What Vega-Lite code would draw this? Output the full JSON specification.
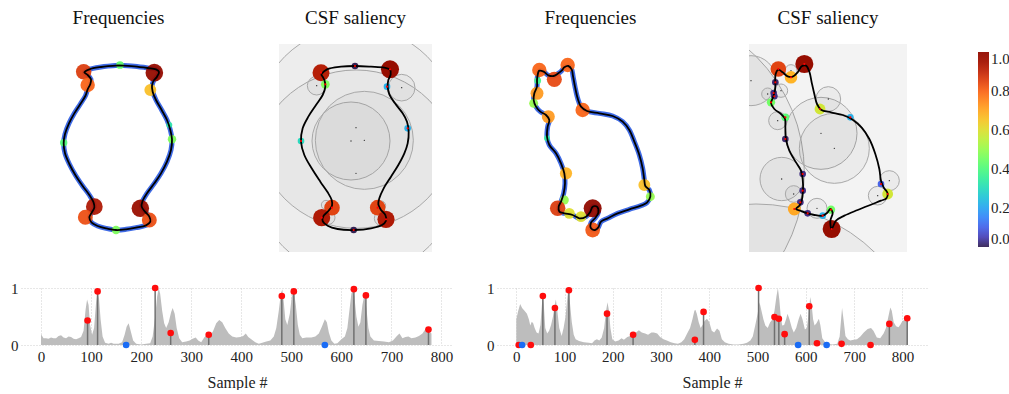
{
  "$schema": "https://vega.github.io/schema/vega-lite/v6.json",
  "padding": {"left": 10, "top": 9, "right": 0, "bottom": 0},
  "background": "white",
  "config": {
    "view": {"stroke": null},
    "font": "Liberation Serif",
    "axis": {"labelFont": "Liberation Serif", "titleFont": "Liberation Serif", "labelColor": "#222", "titleColor": "#222", "gridColor": "#cfcfcf", "gridDash": [1, 2], "domain": false, "ticks": false, "labelFontSize": 15, "titleFontSize": 16, "titleFontWeight": "normal"},
    "title": {"font": "Liberation Serif", "fontSize": 19, "fontWeight": "normal", "color": "#111", "offset": 16}
  },
  "datasets": {
    "p1_line": [
      {"i":0,"x":232,"y":76},{"i":1,"x":280,"y":79},{"i":2,"x":320,"y":84},{"i":3,"x":345,"y":88},{"i":4,"x":354,"y":96},{"i":5,"x":348,"y":110},{"i":6,"x":338,"y":122},{"i":7,"x":333,"y":137},{"i":8,"x":335,"y":155},{"i":9,"x":345,"y":180},{"i":10,"x":362,"y":210},{"i":11,"x":378,"y":240},{"i":12,"x":388,"y":270},{"i":13,"x":393,"y":298},{"i":14,"x":390,"y":330},{"i":15,"x":378,"y":365},{"i":16,"x":360,"y":400},{"i":17,"x":340,"y":430},{"i":18,"x":318,"y":460},{"i":19,"x":304,"y":485},{"i":20,"x":302,"y":500},{"i":21,"x":312,"y":515},{"i":22,"x":325,"y":530},{"i":23,"x":328,"y":545},{"i":24,"x":315,"y":556},{"i":25,"x":285,"y":563},{"i":26,"x":255,"y":568},{"i":27,"x":225,"y":570},{"i":28,"x":195,"y":565},{"i":29,"x":170,"y":558},{"i":30,"x":152,"y":548},{"i":31,"x":145,"y":532},{"i":32,"x":152,"y":518},{"i":33,"x":160,"y":503},{"i":34,"x":158,"y":488},{"i":35,"x":145,"y":465},{"i":36,"x":125,"y":438},{"i":37,"x":103,"y":405},{"i":38,"x":85,"y":372},{"i":39,"x":72,"y":340},{"i":40,"x":68,"y":310},{"i":41,"x":72,"y":282},{"i":42,"x":84,"y":250},{"i":43,"x":100,"y":220},{"i":44,"x":118,"y":192},{"i":45,"x":133,"y":168},{"i":46,"x":140,"y":148},{"i":47,"x":148,"y":132},{"i":48,"x":150,"y":118},{"i":49,"x":140,"y":105},{"i":50,"x":130,"y":97},{"i":51,"x":145,"y":88},{"i":52,"x":180,"y":81},{"i":53,"x":232,"y":76}
    ],
    "p1_pts": [
      {"x":128,"y":95,"v":0.86},{"x":140,"y":135,"v":0.8},{"x":340,"y":98,"v":0.98},{"x":328,"y":150,"v":0.66},{"x":237,"y":75,"v":0.43},{"x":68,"y":308,"v":0.41},{"x":393,"y":298,"v":0.47},{"x":385,"y":255,"v":0.33},{"x":160,"y":500,"v":0.93},{"x":133,"y":532,"v":0.83},{"x":298,"y":505,"v":0.97},{"x":325,"y":540,"v":0.83},{"x":225,"y":570,"v":0.47}
    ],
    "p2_line": [
      {"i":0,"x":150,"y":118},{"i":1,"x":168,"y":103},{"i":2,"x":210,"y":95},{"i":3,"x":252,"y":93},{"i":4,"x":300,"y":95},{"i":5,"x":340,"y":98},{"i":6,"x":357,"y":104},{"i":7,"x":359,"y":118},{"i":8,"x":352,"y":135},{"i":9,"x":350,"y":155},{"i":10,"x":355,"y":178},{"i":11,"x":372,"y":205},{"i":12,"x":395,"y":235},{"i":13,"x":408,"y":260},{"i":14,"x":413,"y":290},{"i":15,"x":410,"y":325},{"i":16,"x":400,"y":355},{"i":17,"x":382,"y":390},{"i":18,"x":360,"y":425},{"i":19,"x":338,"y":460},{"i":20,"x":325,"y":490},{"i":21,"x":322,"y":508},{"i":22,"x":330,"y":525},{"i":23,"x":343,"y":540},{"i":24,"x":345,"y":557},{"i":25,"x":333,"y":570},{"i":26,"x":300,"y":580},{"i":27,"x":250,"y":585},{"i":28,"x":200,"y":582},{"i":29,"x":170,"y":572},{"i":30,"x":155,"y":558},{"i":31,"x":158,"y":542},{"i":32,"x":172,"y":528},{"i":33,"x":183,"y":512},{"i":34,"x":182,"y":495},{"i":35,"x":170,"y":472},{"i":36,"x":148,"y":440},{"i":37,"x":122,"y":400},{"i":38,"x":100,"y":360},{"i":39,"x":90,"y":320},{"i":40,"x":95,"y":280},{"i":41,"x":112,"y":245},{"i":42,"x":135,"y":210},{"i":43,"x":155,"y":180},{"i":44,"x":163,"y":155},{"i":45,"x":160,"y":135},{"i":46,"x":150,"y":118}
    ],
    "p2_pts": [
      {"x":150,"y":113,"v":0.92},{"x":357,"y":103,"v":0.98},{"x":252,"y":93,"v":0.0},{"x":163,"y":148,"v":0.47},{"x":348,"y":155,"v":0.22},{"x":410,"y":280,"v":0.22},{"x":90,"y":318,"v":0.3},{"x":183,"y":518,"v":0.85},{"x":152,"y":548,"v":0.93},{"x":320,"y":518,"v":0.85},{"x":345,"y":553,"v":0.93},{"x":248,"y":585,"v":0.0}
    ],
    "p2_gray": [
      {"x":255,"y":415,"r":310},{"x":255,"y":278,"r":302},{"x":240,"y":318,"r":117},{"x":280,"y":316,"r":147},{"x":137,"y":152,"r":28},{"x":392,"y":158,"r":40},{"x":165,"y":510,"r":14},{"x":330,"y":512,"r":14},{"x":172,"y":548,"r":20},{"x":332,"y":550,"r":22}
    ],
    "p3_line": [
      {"i":0,"x":80,"y":105},{"i":1,"x":85,"y":92},{"i":2,"x":98,"y":95},{"i":3,"x":112,"y":106},{"i":4,"x":128,"y":108},{"i":5,"x":142,"y":100},{"i":6,"x":152,"y":92},{"i":7,"x":160,"y":82},{"i":8,"x":172,"y":78},{"i":9,"x":182,"y":88},{"i":10,"x":186,"y":108},{"i":11,"x":192,"y":140},{"i":12,"x":200,"y":175},{"i":13,"x":210,"y":200},{"i":14,"x":228,"y":213},{"i":15,"x":265,"y":220},{"i":16,"x":305,"y":228},{"i":17,"x":335,"y":245},{"i":18,"x":355,"y":270},{"i":19,"x":370,"y":305},{"i":20,"x":385,"y":345},{"i":21,"x":395,"y":385},{"i":22,"x":400,"y":420},{"i":23,"x":403,"y":438},{"i":24,"x":415,"y":450},{"i":25,"x":418,"y":470},{"i":26,"x":408,"y":488},{"i":27,"x":390,"y":497},{"i":28,"x":355,"y":508},{"i":29,"x":320,"y":520},{"i":30,"x":290,"y":535},{"i":31,"x":270,"y":545},{"i":32,"x":262,"y":562},{"i":33,"x":252,"y":570},{"i":34,"x":240,"y":565},{"i":35,"x":240,"y":548},{"i":36,"x":252,"y":535},{"i":37,"x":262,"y":518},{"i":38,"x":258,"y":500},{"i":39,"x":245,"y":500},{"i":40,"x":238,"y":515},{"i":41,"x":225,"y":530},{"i":42,"x":205,"y":535},{"i":43,"x":185,"y":525},{"i":44,"x":160,"y":520},{"i":45,"x":145,"y":515},{"i":46,"x":143,"y":500},{"i":47,"x":150,"y":485},{"i":48,"x":158,"y":460},{"i":49,"x":162,"y":430},{"i":50,"x":160,"y":400},{"i":51,"x":150,"y":370},{"i":52,"x":135,"y":340},{"i":53,"x":115,"y":315},{"i":54,"x":108,"y":290},{"i":55,"x":110,"y":260},{"i":56,"x":115,"y":240},{"i":57,"x":105,"y":225},{"i":58,"x":88,"y":215},{"i":59,"x":75,"y":200},{"i":60,"x":68,"y":180},{"i":61,"x":70,"y":160},{"i":62,"x":78,"y":140},{"i":63,"x":78,"y":120},{"i":64,"x":80,"y":105}
    ],
    "p3_pts": [
      {"x":85,"y":90,"v":0.8},{"x":130,"y":118,"v":0.84},{"x":170,"y":75,"v":0.8},{"x":78,"y":160,"v":0.72},{"x":68,"y":190,"v":0.5},{"x":112,"y":230,"v":0.72},{"x":215,"y":210,"v":0.8},{"x":165,"y":400,"v":0.68},{"x":160,"y":480,"v":0.5},{"x":140,"y":505,"v":0.86},{"x":175,"y":520,"v":0.6},{"x":210,"y":530,"v":0.6},{"x":245,"y":505,"v":1.0},{"x":245,"y":570,"v":0.82},{"x":400,"y":435,"v":0.66},{"x":418,"y":470,"v":0.5},{"x":108,"y":295,"v":0.33},{"x":80,"y":122,"v":0.38}
    ],
    "p4_line": [
      {"i":0,"x":103,"y":130},{"i":1,"x":104,"y":105},{"i":2,"x":112,"y":92},{"i":3,"x":125,"y":100},{"i":4,"x":140,"y":112},{"i":5,"x":155,"y":113},{"i":6,"x":170,"y":100},{"i":7,"x":182,"y":82},{"i":8,"x":195,"y":80},{"i":9,"x":205,"y":98},{"i":10,"x":212,"y":130},{"i":11,"x":220,"y":165},{"i":12,"x":228,"y":195},{"i":13,"x":240,"y":212},{"i":14,"x":270,"y":220},{"i":15,"x":305,"y":228},{"i":16,"x":335,"y":242},{"i":17,"x":362,"y":266},{"i":18,"x":385,"y":300},{"i":19,"x":403,"y":345},{"i":20,"x":415,"y":390},{"i":21,"x":420,"y":425},{"i":22,"x":428,"y":445},{"i":23,"x":440,"y":463},{"i":24,"x":436,"y":478},{"i":25,"x":420,"y":485},{"i":26,"x":395,"y":495},{"i":27,"x":350,"y":513},{"i":28,"x":310,"y":530},{"i":29,"x":285,"y":545},{"i":30,"x":272,"y":570},{"i":31,"x":268,"y":545},{"i":32,"x":275,"y":522},{"i":33,"x":268,"y":510},{"i":34,"x":258,"y":522},{"i":35,"x":245,"y":530},{"i":36,"x":220,"y":528},{"i":37,"x":200,"y":523},{"i":38,"x":180,"y":516},{"i":39,"x":165,"y":510},{"i":40,"x":175,"y":500},{"i":41,"x":182,"y":485},{"i":42,"x":186,"y":455},{"i":43,"x":185,"y":420},{"i":44,"x":180,"y":395},{"i":45,"x":165,"y":370},{"i":46,"x":145,"y":335},{"i":47,"x":135,"y":300},{"i":48,"x":133,"y":265},{"i":49,"x":132,"y":240},{"i":50,"x":120,"y":225},{"i":51,"x":100,"y":210},{"i":52,"x":90,"y":192},{"i":53,"x":95,"y":178},{"i":54,"x":100,"y":162},{"i":55,"x":103,"y":145},{"i":56,"x":103,"y":130}
    ],
    "p4_pts": [
      {"x":112,"y":90,"v":0.85},{"x":190,"y":75,"v":0.98},{"x":150,"y":115,"v":0.68},{"x":103,"y":130,"v":0.01},{"x":98,"y":162,"v":0.02},{"x":100,"y":172,"v":0.02},{"x":90,"y":190,"v":0.45},{"x":133,"y":235,"v":0.42},{"x":237,"y":210,"v":0.58},{"x":328,"y":235,"v":0.22},{"x":133,"y":300,"v":0.01},{"x":185,"y":405,"v":0.02},{"x":185,"y":455,"v":0.02},{"x":178,"y":490,"v":0.02},{"x":160,"y":510,"v":0.7},{"x":200,"y":523,"v":0.02},{"x":245,"y":530,"v":0.22},{"x":270,"y":512,"v":0.45},{"x":272,"y":570,"v":0.98},{"x":420,"y":435,"v":0.1},{"x":440,"y":465,"v":0.58}
    ],
    "p4_gray": [
      {"x":-300,"y":400,"r":490},{"x":45,"y":1005,"r":510},{"x":30,"y":125,"r":75},{"x":240,"y":283,"r":108},{"x":280,"y":328,"r":105},{"x":262,"y":180,"r":37},{"x":122,"y":420,"r":65},{"x":80,"y":165,"r":18},{"x":120,"y":155,"r":20},{"x":110,"y":245,"r":27},{"x":158,"y":465,"r":25},{"x":228,"y":508,"r":30},{"x":445,"y":425,"r":30},{"x":410,"y":470,"r":28},{"x":150,"y":95,"r":18}
    ],
    "c1_area": [
      {"s":0,"v":0.19},{"s":5,"v":0.12},{"s":10,"v":0.12},{"s":15,"v":0.11},{"s":20,"v":0.13},{"s":25,"v":0.12},{"s":30,"v":0.12},{"s":35,"v":0.16},{"s":40,"v":0.17},{"s":45,"v":0.13},{"s":50,"v":0.12},{"s":55,"v":0.15},{"s":60,"v":0.14},{"s":65,"v":0.11},{"s":70,"v":0.1},{"s":75,"v":0.12},{"s":80,"v":0.14},{"s":85,"v":0.25},{"s":89,"v":0.62},{"s":92,"v":0.8},{"s":95,"v":0.7},{"s":98,"v":0.35},{"s":102,"v":0.18},{"s":106,"v":0.3},{"s":110,"v":0.75},{"s":113,"v":0.95},{"s":116,"v":0.8},{"s":119,"v":0.45},{"s":123,"v":0.15},{"s":128,"v":0.04},{"s":135,"v":0.02},{"s":140,"v":0.04},{"s":145,"v":0.02},{"s":155,"v":0.02},{"s":162,"v":0.05},{"s":167,"v":0.18},{"s":171,"v":0.32},{"s":175,"v":0.38},{"s":179,"v":0.25},{"s":184,"v":0.08},{"s":190,"v":0.02},{"s":200,"v":0.01},{"s":210,"v":0.02},{"s":218,"v":0.03},{"s":223,"v":0.15},{"s":228,"v":0.5},{"s":232,"v":0.85},{"s":235,"v":1.0},{"s":238,"v":0.9},{"s":242,"v":0.6},{"s":246,"v":0.38},{"s":250,"v":0.3},{"s":255,"v":0.4},{"s":260,"v":0.58},{"s":263,"v":0.65},{"s":267,"v":0.55},{"s":271,"v":0.3},{"s":276,"v":0.12},{"s":282,"v":0.05},{"s":290,"v":0.06},{"s":297,"v":0.08},{"s":303,"v":0.11},{"s":309,"v":0.13},{"s":314,"v":0.08},{"s":320,"v":0.05},{"s":326,"v":0.13},{"s":332,"v":0.19},{"s":338,"v":0.16},{"s":344,"v":0.25},{"s":350,"v":0.38},{"s":356,"v":0.44},{"s":362,"v":0.4},{"s":368,"v":0.3},{"s":375,"v":0.2},{"s":382,"v":0.15},{"s":390,"v":0.13},{"s":398,"v":0.14},{"s":404,"v":0.16},{"s":409,"v":0.2},{"s":414,"v":0.14},{"s":420,"v":0.1},{"s":428,"v":0.05},{"s":435,"v":0.02},{"s":442,"v":0.04},{"s":450,"v":0.06},{"s":458,"v":0.08},{"s":465,"v":0.15},{"s":470,"v":0.3},{"s":475,"v":0.6},{"s":479,"v":0.9},{"s":482,"v":0.98},{"s":485,"v":0.75},{"s":488,"v":0.45},{"s":492,"v":0.35},{"s":497,"v":0.55},{"s":501,"v":0.85},{"s":505,"v":0.95},{"s":509,"v":0.7},{"s":513,"v":0.35},{"s":517,"v":0.18},{"s":522,"v":0.12},{"s":530,"v":0.13},{"s":540,"v":0.13},{"s":548,"v":0.15},{"s":555,"v":0.2},{"s":561,"v":0.32},{"s":567,"v":0.45},{"s":571,"v":0.4},{"s":575,"v":0.22},{"s":580,"v":0.08},{"s":586,"v":0.02},{"s":592,"v":0.03},{"s":600,"v":0.1},{"s":607,"v":0.15},{"s":612,"v":0.3},{"s":616,"v":0.6},{"s":620,"v":0.9},{"s":623,"v":0.98},{"s":626,"v":0.85},{"s":630,"v":0.5},{"s":634,"v":0.32},{"s":638,"v":0.4},{"s":642,"v":0.7},{"s":646,"v":0.88},{"s":650,"v":0.65},{"s":654,"v":0.3},{"s":658,"v":0.15},{"s":665,"v":0.08},{"s":675,"v":0.07},{"s":685,"v":0.06},{"s":695,"v":0.05},{"s":703,"v":0.08},{"s":710,"v":0.15},{"s":716,"v":0.2},{"s":722,"v":0.12},{"s":728,"v":0.14},{"s":734,"v":0.15},{"s":740,"v":0.12},{"s":748,"v":0.13},{"s":755,"v":0.16},{"s":762,"v":0.2},{"s":768,"v":0.28},{"s":773,"v":0.27},{"s":778,"v":0.22},{"s":780,"v":0.2}
    ],
    "c1_pts": [
      {"s":93,"v":0.43,"k":"red"},{"s":113,"v":0.94,"k":"red"},{"s":228,"v":1.0,"k":"red"},{"s":259,"v":0.21,"k":"red"},{"s":335,"v":0.18,"k":"red"},{"s":481,"v":0.86,"k":"red"},{"s":505,"v":0.94,"k":"red"},{"s":625,"v":0.98,"k":"red"},{"s":649,"v":0.87,"k":"red"},{"s":774,"v":0.27,"k":"red"},{"s":170,"v":0,"k":"blue"},{"s":567,"v":0,"k":"blue"}
    ],
    "c2_area": [
      {"s":0,"v":0.45},{"s":4,"v":0.6},{"s":8,"v":0.72},{"s":12,"v":0.65},{"s":17,"v":0.6},{"s":22,"v":0.55},{"s":26,"v":0.45},{"s":29,"v":0.34},{"s":32,"v":0.41},{"s":35,"v":0.38},{"s":38,"v":0.3},{"s":42,"v":0.22},{"s":46,"v":0.2},{"s":50,"v":0.35},{"s":53,"v":0.7},{"s":55,"v":0.86},{"s":57,"v":0.7},{"s":60,"v":0.3},{"s":64,"v":0.2},{"s":68,"v":0.25},{"s":72,"v":0.35},{"s":76,"v":0.5},{"s":80,"v":0.72},{"s":82,"v":0.8},{"s":85,"v":0.6},{"s":89,"v":0.3},{"s":94,"v":0.16},{"s":98,"v":0.3},{"s":102,"v":0.5},{"s":106,"v":0.85},{"s":108,"v":0.96},{"s":111,"v":0.75},{"s":115,"v":0.4},{"s":119,"v":0.18},{"s":123,"v":0.1},{"s":130,"v":0.07},{"s":140,"v":0.05},{"s":150,"v":0.04},{"s":157,"v":0.03},{"s":162,"v":0.08},{"s":167,"v":0.1},{"s":172,"v":0.08},{"s":177,"v":0.13},{"s":182,"v":0.3},{"s":186,"v":0.6},{"s":189,"v":0.75},{"s":192,"v":0.6},{"s":195,"v":0.3},{"s":199,"v":0.1},{"s":205,"v":0.06},{"s":212,"v":0.08},{"s":218,"v":0.12},{"s":223,"v":0.09},{"s":230,"v":0.14},{"s":236,"v":0.16},{"s":242,"v":0.18},{"s":248,"v":0.22},{"s":254,"v":0.26},{"s":260,"v":0.22},{"s":267,"v":0.2},{"s":273,"v":0.18},{"s":280,"v":0.22},{"s":285,"v":0.22},{"s":292,"v":0.2},{"s":298,"v":0.14},{"s":305,"v":0.1},{"s":312,"v":0.08},{"s":320,"v":0.05},{"s":328,"v":0.03},{"s":335,"v":0.02},{"s":342,"v":0.05},{"s":348,"v":0.1},{"s":354,"v":0.2},{"s":360,"v":0.3},{"s":365,"v":0.45},{"s":369,"v":0.6},{"s":371,"v":0.62},{"s":374,"v":0.55},{"s":378,"v":0.4},{"s":382,"v":0.3},{"s":386,"v":0.35},{"s":390,"v":0.42},{"s":395,"v":0.46},{"s":400,"v":0.4},{"s":405,"v":0.25},{"s":410,"v":0.22},{"s":416,"v":0.29},{"s":421,"v":0.25},{"s":426,"v":0.1},{"s":432,"v":0.05},{"s":440,"v":0.02},{"s":450,"v":0.01},{"s":460,"v":0.01},{"s":471,"v":0.02},{"s":478,"v":0.04},{"s":485,"v":0.08},{"s":490,"v":0.15},{"s":495,"v":0.34},{"s":500,"v":0.55},{"s":504,"v":0.75},{"s":508,"v":0.6},{"s":512,"v":0.45},{"s":516,"v":0.34},{"s":521,"v":0.3},{"s":526,"v":0.4},{"s":531,"v":0.45},{"s":535,"v":0.6},{"s":539,"v":0.85},{"s":542,"v":1.0},{"s":545,"v":0.8},{"s":548,"v":0.5},{"s":551,"v":0.34},{"s":555,"v":0.35},{"s":559,"v":0.45},{"s":562,"v":0.55},{"s":566,"v":0.45},{"s":571,"v":0.3},{"s":575,"v":0.22},{"s":580,"v":0.3},{"s":585,"v":0.45},{"s":589,"v":0.55},{"s":593,"v":0.45},{"s":598,"v":0.27},{"s":602,"v":0.3},{"s":605,"v":0.5},{"s":609,"v":0.84},{"s":612,"v":0.7},{"s":615,"v":0.45},{"s":618,"v":0.34},{"s":622,"v":0.38},{"s":627,"v":0.46},{"s":630,"v":0.35},{"s":634,"v":0.12},{"s":640,"v":0.05},{"s":645,"v":0.02},{"s":655,"v":0.01},{"s":665,"v":0.02},{"s":670,"v":0.15},{"s":673,"v":0.45},{"s":675,"v":0.65},{"s":678,"v":0.45},{"s":682,"v":0.16},{"s":687,"v":0.1},{"s":692,"v":0.08},{"s":699,"v":0.09},{"s":706,"v":0.1},{"s":713,"v":0.15},{"s":720,"v":0.22},{"s":728,"v":0.28},{"s":735,"v":0.3},{"s":740,"v":0.25},{"s":747,"v":0.13},{"s":754,"v":0.12},{"s":761,"v":0.2},{"s":766,"v":0.3},{"s":771,"v":0.5},{"s":775,"v":0.66},{"s":778,"v":0.6},{"s":782,"v":0.4},{"s":787,"v":0.33},{"s":792,"v":0.31},{"s":796,"v":0.36},{"s":800,"v":0.42},{"s":805,"v":0.44},{"s":810,"v":0.47}
    ],
    "c2_pts": [
      {"s":5,"v":0,"k":"red"},{"s":30,"v":0,"k":"red"},{"s":55,"v":0.86,"k":"red"},{"s":80,"v":0.65,"k":"red"},{"s":109,"v":0.96,"k":"red"},{"s":188,"v":0.55,"k":"red"},{"s":242,"v":0.18,"k":"red"},{"s":370,"v":0.09,"k":"red"},{"s":388,"v":0.58,"k":"red"},{"s":502,"v":1.0,"k":"red"},{"s":535,"v":0.49,"k":"red"},{"s":544,"v":0.46,"k":"red"},{"s":556,"v":0.19,"k":"red"},{"s":607,"v":0.68,"k":"red"},{"s":623,"v":0.03,"k":"red"},{"s":674,"v":0.02,"k":"red"},{"s":734,"v":0,"k":"red"},{"s":773,"v":0.37,"k":"red"},{"s":810,"v":0.47,"k":"red"},{"s":12,"v":0,"k":"blue"},{"s":584,"v":0,"k":"blue"},{"s":643,"v":0,"k":"blue"}
    ]
  },
  "resolve": {"scale": {"size": "independent"}, "legend": {"size": "independent"}},
  "spacing": 29,
  "vconcat": [
    {
      "spacing": 83,
      "resolve": {"scale": {"size": "independent"}, "legend": {"size": "independent"}},
      "hconcat": [
        {
          "width": 175, "height": 208,
          "title": {"text": "Frequencies", "dx": 10},
          "layer": [
            {"data": {"name": "p1_line"}, "mark": {"type": "line", "color": "#3f6be6", "strokeWidth": 5, "interpolate": "catmull-rom", "strokeJoin": "round"},
             "encoding": {"x": {"field": "x", "type": "quantitative", "scale": {"domain": [-60, 465], "nice": false, "zero": false}, "axis": null}, "y": {"field": "y", "type": "quantitative", "scale": {"domain": [12, 636], "reverse": true, "nice": false, "zero": false}, "axis": null}, "order": {"field": "i"}}},
            {"data": {"name": "p1_pts"}, "mark": {"type": "circle", "opacity": 0.95},
             "encoding": {"x": {"field": "x", "type": "quantitative"}, "y": {"field": "y", "type": "quantitative"},
              "color": {"field": "v", "type": "quantitative", "scale": {"scheme": {"name": "turbo", "extent": [0.02, 1]}, "domain": [0, 1]}, "legend": {"orient": "none", "legendX": 957, "legendY": 8, "direction": "vertical", "gradientLength": 195, "gradientThickness": 11, "title": null, "values": [0, 0.2, 0.4, 0.6, 0.8, 1], "format": ".1f", "labelFont": "Liberation Serif", "labelFontSize": 15, "labelColor": "#222", "gradientStrokeWidth": 0}},
              "size": {"field": "v", "type": "quantitative", "scale": {"type": "pow", "exponent": 2, "domain": [0, 1], "range": [0, 324]}, "legend": null}}},
            {"data": {"name": "p1_line"}, "mark": {"type": "line", "color": "#000", "strokeWidth": 1.8, "interpolate": "catmull-rom"},
             "encoding": {"x": {"field": "x", "type": "quantitative"}, "y": {"field": "y", "type": "quantitative"}, "order": {"field": "i"}}}
          ]
        },
        {
          "width": 153, "height": 208,
          "title": {"text": "CSF saliency"},
          "view": {"fill": "#f3f3f3", "stroke": null},
          "resolve": {"scale": {"size": "independent"}, "legend": {"size": "independent"}},
          "layer": [
            {"data": {"name": "p2_gray"}, "mark": {"type": "point", "shape": "circle", "filled": true, "fill": "#000", "fillOpacity": 0.025, "stroke": "#a8a8a8", "strokeOpacity": 1, "strokeWidth": 1, "opacity": 1, "clip": true},
             "encoding": {"x": {"field": "x", "type": "quantitative", "scale": {"domain": [24, 483], "nice": false, "zero": false}, "axis": null}, "y": {"field": "y", "type": "quantitative", "scale": {"domain": [27, 651], "reverse": true, "nice": false, "zero": false}, "axis": null},
              "size": {"field": "r", "type": "quantitative", "scale": {"type": "pow", "exponent": 2, "domain": [0, 600], "range": [0, 160000]}, "legend": null}}},
            {"data": {"name": "p2_gray"}, "mark": {"type": "circle", "color": "#333", "size": 2, "opacity": 1, "clip": true},
             "encoding": {"x": {"field": "x", "type": "quantitative"}, "y": {"field": "y", "type": "quantitative"}}},
            {"data": {"name": "p2_pts"}, "mark": {"type": "circle", "opacity": 1},
             "encoding": {"x": {"field": "x", "type": "quantitative"}, "y": {"field": "y", "type": "quantitative"},
              "color": {"field": "v", "type": "quantitative", "scale": {"scheme": {"name": "turbo", "extent": [0.02, 1]}, "domain": [0, 1]}, "legend": {"orient": "none", "legendX": 957, "legendY": 8, "direction": "vertical", "gradientLength": 195, "gradientThickness": 11, "title": null, "values": [0, 0.2, 0.4, 0.6, 0.8, 1], "format": ".1f", "labelFont": "Liberation Serif", "labelFontSize": 15, "labelColor": "#222", "gradientStrokeWidth": 0}},
              "size": {"field": "v", "type": "quantitative", "scale": {"domain": [0, 0.36, 0.5, 0.7, 0.85, 1], "range": [44, 44, 85, 166, 243, 339]}, "legend": null}}},
            {"data": {"name": "p2_line"}, "mark": {"type": "line", "color": "#000", "strokeWidth": 1.8, "interpolate": "catmull-rom"},
             "encoding": {"x": {"field": "x", "type": "quantitative"}, "y": {"field": "y", "type": "quantitative"}, "order": {"field": "i"}}},
            {"data": {"name": "p2_pts"}, "mark": {"type": "circle", "color": "#ff0000", "size": 5, "opacity": 1},
             "encoding": {"x": {"field": "x", "type": "quantitative"}, "y": {"field": "y", "type": "quantitative"}}}
          ]
        },
        {
          "width": 151, "height": 208,
          "title": {"text": "Frequencies"},
          "layer": [
            {"data": {"name": "p3_line"}, "mark": {"type": "line", "color": "#3f6be6", "strokeWidth": 5, "interpolate": "catmull-rom", "strokeJoin": "round"},
             "encoding": {"x": {"field": "x", "type": "quantitative", "scale": {"domain": [12, 465], "nice": false, "zero": false}, "axis": null}, "y": {"field": "y", "type": "quantitative", "scale": {"domain": [12, 636], "reverse": true, "nice": false, "zero": false}, "axis": null}, "order": {"field": "i"}}},
            {"data": {"name": "p3_pts"}, "mark": {"type": "circle", "opacity": 0.95},
             "encoding": {"x": {"field": "x", "type": "quantitative"}, "y": {"field": "y", "type": "quantitative"},
              "color": {"field": "v", "type": "quantitative", "scale": {"scheme": {"name": "turbo", "extent": [0.02, 1]}, "domain": [0, 1]}, "legend": {"orient": "none", "legendX": 957, "legendY": 8, "direction": "vertical", "gradientLength": 195, "gradientThickness": 11, "title": null, "values": [0, 0.2, 0.4, 0.6, 0.8, 1], "format": ".1f", "labelFont": "Liberation Serif", "labelFontSize": 15, "labelColor": "#222", "gradientStrokeWidth": 0}},
              "size": {"field": "v", "type": "quantitative", "scale": {"type": "pow", "exponent": 2, "domain": [0, 1], "range": [0, 324]}, "legend": null}}},
            {"data": {"name": "p3_line"}, "mark": {"type": "line", "color": "#000", "strokeWidth": 1.8, "interpolate": "catmull-rom"},
             "encoding": {"x": {"field": "x", "type": "quantitative"}, "y": {"field": "y", "type": "quantitative"}, "order": {"field": "i"}}}
          ]
        },
        {
          "width": 158, "height": 208,
          "title": {"text": "CSF saliency"},
          "view": {"fill": "#f3f3f3", "stroke": null},
          "resolve": {"scale": {"size": "independent"}, "legend": {"size": "independent"}},
          "layer": [
            {"data": {"name": "p4_gray"}, "mark": {"type": "point", "shape": "circle", "filled": true, "fill": "#000", "fillOpacity": 0.03, "stroke": "#a8a8a8", "strokeOpacity": 1, "strokeWidth": 1, "opacity": 1, "clip": true},
             "encoding": {"x": {"field": "x", "type": "quantitative", "scale": {"domain": [24, 498], "nice": false, "zero": false}, "axis": null}, "y": {"field": "y", "type": "quantitative", "scale": {"domain": [15, 639], "reverse": true, "nice": false, "zero": false}, "axis": null},
              "size": {"field": "r", "type": "quantitative", "scale": {"type": "pow", "exponent": 2, "domain": [0, 600], "range": [0, 160000]}, "legend": null}}},
            {"data": {"name": "p4_gray"}, "mark": {"type": "circle", "color": "#333", "size": 2, "opacity": 1, "clip": true},
             "encoding": {"x": {"field": "x", "type": "quantitative"}, "y": {"field": "y", "type": "quantitative"}}},
            {"data": {"name": "p4_pts"}, "mark": {"type": "circle", "opacity": 1},
             "encoding": {"x": {"field": "x", "type": "quantitative"}, "y": {"field": "y", "type": "quantitative"},
              "color": {"field": "v", "type": "quantitative", "scale": {"scheme": {"name": "turbo", "extent": [0.02, 1]}, "domain": [0, 1]}, "legend": {"orient": "none", "legendX": 957, "legendY": 8, "direction": "vertical", "gradientLength": 195, "gradientThickness": 11, "title": null, "values": [0, 0.2, 0.4, 0.6, 0.8, 1], "format": ".1f", "labelFont": "Liberation Serif", "labelFontSize": 15, "labelColor": "#222", "gradientStrokeWidth": 0}},
              "size": {"field": "v", "type": "quantitative", "scale": {"domain": [0, 0.36, 0.5, 0.7, 0.85, 1], "range": [44, 44, 85, 166, 243, 339]}, "legend": null}}},
            {"data": {"name": "p4_line"}, "mark": {"type": "line", "color": "#000", "strokeWidth": 1.8, "interpolate": "catmull-rom"},
             "encoding": {"x": {"field": "x", "type": "quantitative"}, "y": {"field": "y", "type": "quantitative"}, "order": {"field": "i"}}},
            {"data": {"name": "p4_pts"}, "mark": {"type": "circle", "color": "#ff0000", "size": 5, "opacity": 1},
             "encoding": {"x": {"field": "x", "type": "quantitative"}, "y": {"field": "y", "type": "quantitative"}}}
          ]
        }
      ]
    },
    {
      "spacing": 33,
      "hconcat": [
        {
          "width": 432, "height": 57,
          "layer": [
            {"data": {"name": "c1_area"}, "mark": {"type": "area", "color": "#bdbdbd", "opacity": 1},
             "encoding": {"x": {"field": "s", "type": "quantitative", "scale": {"domain": [-40, 823], "nice": false, "zero": false}, "axis": {"values": [0, 100, 200, 300, 400, 500, 600, 700, 800], "grid": true, "title": "Sample #", "labelPadding": 4, "titlePadding": 10}},
              "y": {"field": "v", "type": "quantitative", "scale": {"domain": [0, 1], "nice": false}, "axis": {"values": [0, 1], "format": "d", "grid": true, "title": null, "labelPadding": 3}}}},
            {"data": {"name": "c1_pts"}, "transform": [{"filter": "datum.k == 'red'"}], "mark": {"type": "rule", "color": "#707070", "strokeWidth": 1.5},
             "encoding": {"x": {"field": "s", "type": "quantitative"}, "y": {"field": "v", "type": "quantitative"}, "y2": {"datum": 0}}},
            {"data": {"name": "c1_pts"}, "transform": [{"filter": "datum.k == 'red'"}], "mark": {"type": "circle", "color": "#ff0d0d", "size": 44, "opacity": 1},
             "encoding": {"x": {"field": "s", "type": "quantitative"}, "y": {"field": "v", "type": "quantitative"}}},
            {"data": {"name": "c1_pts"}, "transform": [{"filter": "datum.k == 'blue'"}], "mark": {"type": "circle", "color": "#1a6cf5", "size": 44, "opacity": 1},
             "encoding": {"x": {"field": "s", "type": "quantitative"}, "y": {"field": "v", "type": "quantitative"}}}
          ]
        },
        {
          "width": 430, "height": 57,
          "layer": [
            {"data": {"name": "c2_area"}, "mark": {"type": "area", "color": "#bdbdbd", "opacity": 1},
             "encoding": {"x": {"field": "s", "type": "quantitative", "scale": {"domain": [-40, 851], "nice": false, "zero": false}, "axis": {"values": [0, 100, 200, 300, 400, 500, 600, 700, 800], "grid": true, "title": "Sample #", "labelPadding": 4, "titlePadding": 10}},
              "y": {"field": "v", "type": "quantitative", "scale": {"domain": [0, 1], "nice": false}, "axis": {"values": [0, 1], "format": "d", "grid": true, "title": null, "labelPadding": 3}}}},
            {"data": {"name": "c2_pts"}, "transform": [{"filter": "datum.k == 'red'"}], "mark": {"type": "rule", "color": "#707070", "strokeWidth": 1.5},
             "encoding": {"x": {"field": "s", "type": "quantitative"}, "y": {"field": "v", "type": "quantitative"}, "y2": {"datum": 0}}},
            {"data": {"name": "c2_pts"}, "transform": [{"filter": "datum.k == 'red'"}], "mark": {"type": "circle", "color": "#ff0d0d", "size": 44, "opacity": 1},
             "encoding": {"x": {"field": "s", "type": "quantitative"}, "y": {"field": "v", "type": "quantitative"}}},
            {"data": {"name": "c2_pts"}, "transform": [{"filter": "datum.k == 'blue'"}], "mark": {"type": "circle", "color": "#1a6cf5", "size": 44, "opacity": 1},
             "encoding": {"x": {"field": "s", "type": "quantitative"}, "y": {"field": "v", "type": "quantitative"}}}
          ]
        }
      ]
    }
  ]
}
